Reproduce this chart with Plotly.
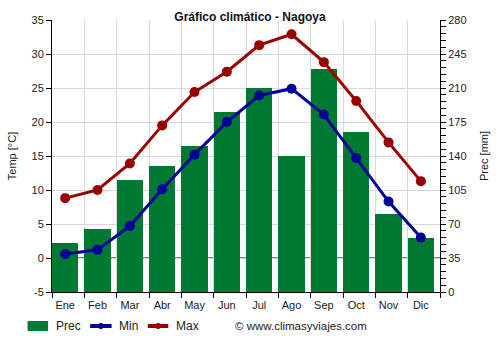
import plotly.graph_objects as go

months = ["Ene", "Feb", "Mar", "Abr", "May", "Jun", "Jul", "Ago", "Sep", "Oct", "Nov", "Dic"]
prec = [50, 65, 115, 130, 150, 185, 210, 140, 230, 165, 80, 56]
tmin = [0.6, 1.2, 4.7, 10.1, 15.2, 20.0, 23.9, 24.9, 21.1, 14.7, 8.3, 3.0]
tmax = [8.8, 10.0, 13.9, 19.5, 24.4, 27.4, 31.3, 32.9, 28.8, 23.1, 17.0, 11.3]
temp_ticks = [-5, 0, 5, 10, 15, 20, 25, 30, 35]
temp_ticktext = ["-5", "0", "5", "10", "15", "20", "25", "30", "35"]

xs = list(range(len(months)))
off = 0.408
bounds = [i - off for i in range(len(months) + 1)]

FONT = "Liberation Sans, Arial, sans-serif"
GREEN = "#007a33"
BLUE = "#000099"
RED = "#990000"
GRID = "#d9d9d9"
TXT = "#222222"

W, H = 500, 350
ML, MR, MT, MB = 49, 54, 20, 58
PW, PH = W - ML - MR, H - MT - MB


def px(x):
    return (x - ML) / PW


def py(y):
    return (H - MB - y) / PH


fig = go.Figure()
fig.add_trace(go.Bar(x=xs, y=prec, name="Prec", marker=dict(color=GREEN, line=dict(width=0)),
                     width=0.816, xaxis="x", yaxis="y", showlegend=False))
fig.add_trace(go.Scatter(x=[xs[0]], y=[prec[0]], xaxis="x2", yaxis="y", mode="markers",
                         marker=dict(opacity=0), showlegend=False, hoverinfo="skip"))
fig.add_trace(go.Scatter(x=xs, y=tmin, name="Min", mode="lines+markers", xaxis="x", yaxis="y2",
                         line=dict(color=BLUE, width=3), marker=dict(size=10, color=BLUE),
                         showlegend=False))
fig.add_trace(go.Scatter(x=xs, y=tmax, name="Max", mode="lines+markers", xaxis="x", yaxis="y2",
                         line=dict(color=RED, width=3), marker=dict(size=10, color=RED),
                         showlegend=False))

xr = [-off, len(months) - off]
fig.update_layout(
    width=W, height=H,
    margin=dict(l=ML, r=MR, t=MT, b=MB),
    paper_bgcolor="white", plot_bgcolor="white",
    font=dict(family=FONT, size=11, color=TXT),
    title=dict(text="<b>Gráfico climático - Nagoya</b>", x=0.5, xanchor="center",
               y=1 - 17 / H, yanchor="middle", font=dict(size=12, color="#111111")),
    showlegend=False,
    bargap=0,
    xaxis=dict(range=xr, tickmode="array", tickvals=xs, ticktext=months,
               showgrid=False, ticks="", showline=False, zeroline=False, fixedrange=True,
               ticklabelstandoff=5, automargin=False),
    xaxis2=dict(range=xr, overlaying="x", side="bottom", tickmode="array", tickvals=bounds,
                showticklabels=False, showgrid=True, gridcolor=GRID, gridwidth=1,
                ticks="outside", ticklen=5, tickcolor="black", showline=True,
                linecolor="black", zeroline=False, automargin=False),
    yaxis=dict(range=[0, 280], dtick=35, side="right",
               showgrid=True, gridcolor=GRID, zeroline=False, showline=True, linecolor="black",
               ticks="outside", ticklen=5, tickcolor="black",
               minor=dict(dtick=7, ticks="outside", ticklen=5, tickcolor="black", showgrid=False),
               title=dict(text="Prec [mm]", font=dict(size=11), standoff=14)),
    yaxis2=dict(range=[-5, 35], tickmode="array", tickvals=temp_ticks, ticktext=temp_ticktext,
                overlaying="y", side="left", showgrid=False,
                zeroline=False, showline=True, linecolor="black", ticks="outside", ticklen=5,
                tickcolor="black",
                title=dict(text="Temp [°C]", font=dict(size=11), standoff=12)),
)

# zero-degree reference line, drawn below the bars
fig.add_shape(type="line", xref="paper", x0=0, x1=1, yref="y2", y0=0, y1=0,
              line=dict(color="black", width=1), layer="below")

# custom legend
LY = 326
fig.add_shape(type="rect", xref="paper", yref="paper", x0=px(24), x1=px(45),
              y0=py(LY - 5), y1=py(LY + 5), fillcolor=GREEN, line=dict(width=0))
for (x0, x1, col) in [(88, 110, BLUE), (147, 168, RED)]:
    fig.add_shape(type="line", xref="paper", yref="paper", x0=px(x0), x1=px(x1),
                  y0=py(LY), y1=py(LY), line=dict(color=col, width=4))
    cx = (x0 + x1) / 2
    fig.add_shape(type="circle", xref="paper", yref="paper", x0=px(cx - 3), x1=px(cx + 3),
                  y0=py(LY - 3), y1=py(LY + 3), fillcolor=col, line=dict(width=0))
for (x, label) in [(51, "Prec"), (115, "Min"), (174, "Max")]:
    fig.add_annotation(text=label, xref="paper", yref="paper", x=px(x), xanchor="left",
                       y=py(LY), yanchor="middle", showarrow=False,
                       font=dict(size=12, color=TXT))

fig.add_annotation(text="© www.climasyviajes.com", xref="paper", yref="paper",
                   x=px(234), xanchor="left", y=py(LY), yanchor="middle",
                   showarrow=False, font=dict(size=11.5, color=TXT))

fig.write_html("out.html")
